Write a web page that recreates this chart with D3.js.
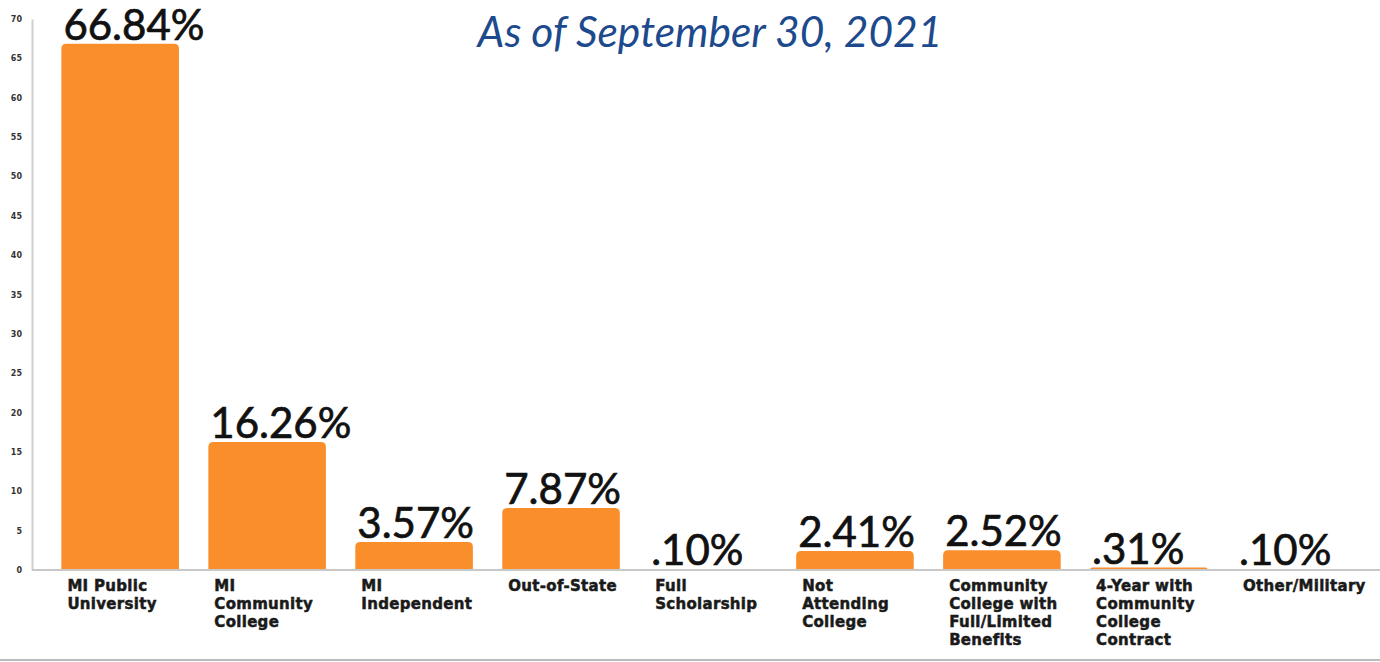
<!DOCTYPE html>
<html>
<head>
<meta charset="utf-8">
<script src="https://cdn.jsdelivr.net/npm/d3@7"></script>
<style>
  body { margin: 0; background: #fff; }
  svg { display: block; }
</style>
</head>
<body>
<svg></svg>
<script>
// categories and values (percent)
const categories = [
  ["MI Public", "University"],
  ["MI", "Community", "College"],
  ["MI", "Independent"],
  ["Out-of-State"],
  ["Full", "Scholarship"],
  ["Not", "Attending", "College"],
  ["Community", "College with", "Full/Limited", "Benefits"],
  ["4-Year with", "Community", "College", "Contract"],
  ["Other/Military"],
];
const values = [66.84, 16.26, 3.57, 7.87, 0.1, 2.41, 2.52, 0.31, 0.1];
const valueLabels = ["66.84%", "16.26%", "3.57%", "7.87%", ".10%", "2.41%", "2.52%", ".31%", ".10%"];
const yTicks = d3.range(0, 71, 5);
const title = "As of September 30, 2021";

const W = 1380, H = 662;
const svg = d3.select("svg").attr("width", W).attr("height", H);

const x = d3.scaleBand()
  .domain(d3.range(values.length))
  .range([32, 1384])
  .paddingInner(0.2)
  .paddingOuter(0.2);

const y = d3.scaleLinear().domain([0, 70]).range([570, 19]);

// title
svg.append("text")
  .attr("x", 710)
  .attr("y", 47)
  .attr("text-anchor", "middle")
  .style("font-family", "Lato")
  .style("font-style", "italic")
  .style("font-size", "42.5px")
  .attr("fill", "#1d4a8c")
  .text(title);

// y axis
const yAxis = svg.append("g")
  .attr("transform", "translate(32,0)")
  .call(d3.axisLeft(y).tickValues(yTicks).tickSize(0).tickPadding(10));
yAxis.select(".domain").attr("stroke", "#d0d0d0").attr("stroke-width", 2);
yAxis.selectAll("text")
  .style("font-family", "DejaVu Sans")
  .style("font-weight", "bold")
  .style("font-size", "8px")
  .attr("fill", "#333");

// bars with rounded top corners
const r = 5;
function barPath(d, i) {
  const x0 = x(i), w = x.bandwidth(), y0 = y(d), yb = y(0);
  const h = yb - y0;
  const rr = Math.min(r, h);
  return `M${x0},${yb}V${y0 + rr}Q${x0},${y0} ${x0 + rr},${y0}H${x0 + w - rr}Q${x0 + w},${y0} ${x0 + w},${y0 + rr}V${yb}Z`;
}
svg.append("g").selectAll("path")
  .data(values)
  .join("path")
  .attr("d", barPath)
  .attr("fill", "#f98e2a");

// x axis line
svg.append("line")
  .attr("x1", 32).attr("x2", W)
  .attr("y1", y(0)).attr("y2", y(0))
  .attr("stroke", "#c8c8c8")
  .attr("stroke-width", 2);

// value labels
svg.append("g").selectAll("text")
  .data(values)
  .join("text")
  .attr("x", (d, i) => x(i) + 2)
  .attr("y", d => y(d) - 4)
  .style("font-family", "Lato")
  .style("font-size", "42px")
  .attr("fill", "#111")
  .attr("stroke", "#111")
  .attr("stroke-width", 0.7)
  .text((d, i) => valueLabels[i]);

// category labels
const cat = svg.append("g").selectAll("text")
  .data(categories)
  .join("text")
  .attr("x", (d, i) => x(i) + 6)
  .attr("y", 591)
  .style("font-family", "DejaVu Sans")
  .style("font-weight", "bold")
  .style("font-size", "15px")
  .style("letter-spacing", "0.3px")
  .attr("fill", "#1a1a1a")
  .attr("stroke", "#1a1a1a")
  .attr("stroke-width", 0.5);
cat.selectAll("tspan")
  .data(d => d)
  .join("tspan")
  .attr("x", function () { return d3.select(this.parentNode).attr("x"); })
  .attr("dy", (d, j) => (j === 0 ? 0 : 18))
  .text(d => d);

// bottom frame line
svg.append("line")
  .attr("x1", 0).attr("x2", W)
  .attr("y1", 660).attr("y2", 660)
  .attr("stroke", "#bbb")
  .attr("stroke-width", 2);
</script>
</body>
</html>
